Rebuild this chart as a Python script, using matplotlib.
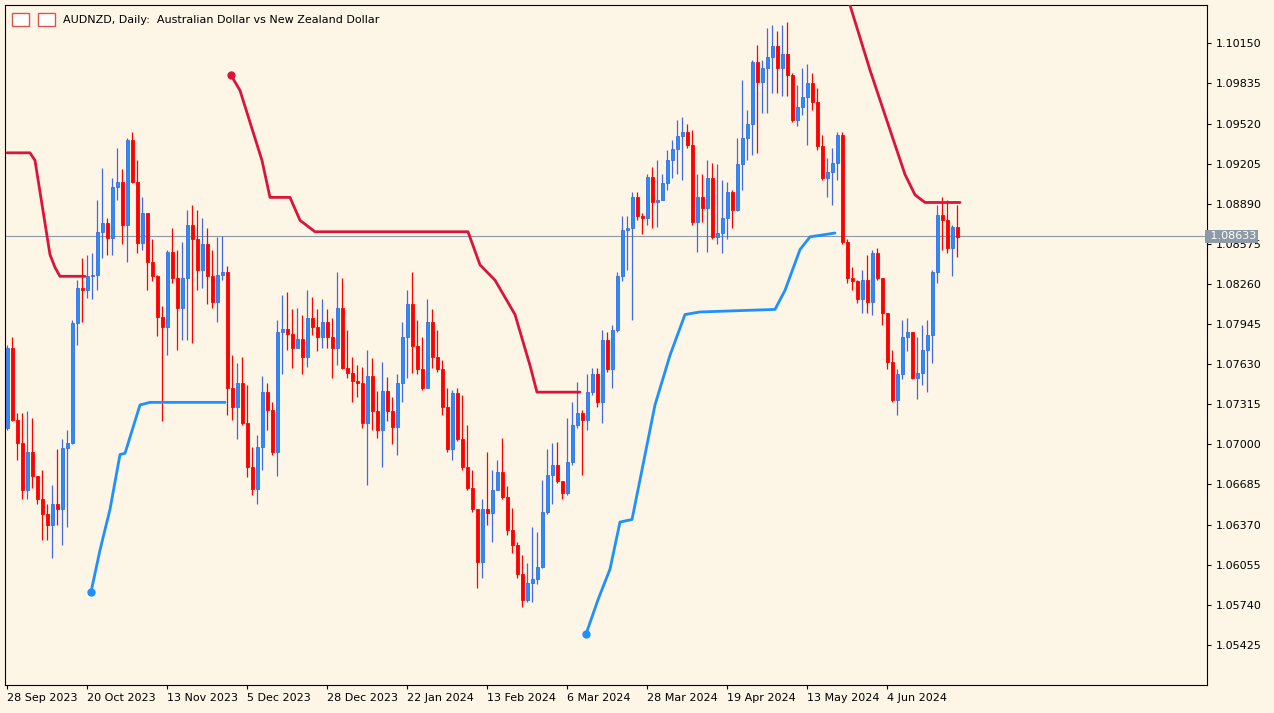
import matplotlib.pyplot as plt
import matplotlib.patches as mpatches
import numpy as np

# daily AUDNZD candles (open of each day = previous close)
first_open = 1.0713
closes = [10776, 10719, 10701, 10664, 10694, 10675, 10657, 10645, 10637, 10653,
          10649, 10697, 10701, 10795, 10823, 10821, 10832, 10833, 10867, 10874,
          10862, 10902, 10906, 10872, 10939, 10906, 10858, 10882, 10843, 10832,
          10800, 10792, 10851, 10831, 10807, 10831, 10872, 10861, 10837, 10857,
          10832, 10812, 10833, 10835, 10744, 10729, 10748, 10717, 10682, 10665,
          10698, 10741, 10727, 10694, 10788, 10791, 10787, 10776, 10783, 10769,
          10799, 10792, 10784, 10796, 10784, 10776, 10807, 10760, 10756, 10750,
          10748, 10717, 10754, 10726, 10711, 10742, 10726, 10714, 10748, 10784,
          10810, 10777, 10759, 10744, 10796, 10769, 10759, 10729, 10696, 10740,
          10704, 10682, 10666, 10649, 10608, 10649, 10646, 10664, 10678, 10659,
          10633, 10621, 10598, 10578, 10591, 10594, 10604, 10647, 10676, 10684,
          10671, 10662, 10686, 10715, 10725, 10719, 10741, 10755, 10733, 10782,
          10759, 10790, 10832, 10868, 10870, 10894, 10879, 10878, 10910, 10890,
          10892, 10905, 10923, 10932, 10942, 10945, 10935, 10875, 10894, 10886,
          10909, 10863, 10866, 10878, 10898, 10884, 10920, 10941, 10952, 11000,
          10985, 10996, 11004, 11013, 10996, 11007, 10990, 10955, 10965, 10973,
          10984, 10969, 10934, 10909, 10914, 10921, 10943, 10859, 10831, 10828,
          10814, 10829, 10812, 10850, 10831, 10803, 10765, 10735, 10755, 10784,
          10788, 10752, 10756, 10774, 10786, 10835, 10880, 10876, 10854, 10871,
          10863]
highs = [10778, 10784, 10725, 10725, 10726, 10721, 10672, 10680, 10653, 10668,
         10696, 10704, 10711, 10798, 10829, 10846, 10849, 10850, 10892, 10917,
         10878, 10909, 10933, 10916, 10941, 10945, 10923, 10894, 10866, 10861,
         10833, 10809, 10853, 10870, 10853, 10859, 10884, 10888, 10884, 10878,
         10870, 10853, 10863, 10864, 10840, 10770, 10764, 10769, 10747, 10698,
         10707, 10754, 10748, 10733, 10798, 10817, 10820, 10806, 10807, 10802,
         10821, 10816, 10806, 10814, 10806, 10799, 10835, 10831, 10790, 10769,
         10762, 10761, 10774, 10768, 10742, 10765, 10753, 10737, 10755, 10796,
         10821, 10835, 10798, 10784, 10814, 10806, 10790, 10766, 10744, 10743,
         10744, 10739, 10715, 10680, 10645, 10657, 10694, 10680, 10688, 10705,
         10667, 10650, 10623, 10613, 10607, 10635, 10631, 10672, 10696, 10701,
         10702, 10668, 10721, 10733, 10749, 10727, 10755, 10760, 10760, 10790,
         10788, 10794, 10835, 10879, 10879, 10898, 10898, 10882, 10912, 10918,
         10923, 10912, 10931, 10939, 10955, 10957, 10952, 10947, 10912, 10912,
         10923, 10921, 10920, 10908, 10906, 10900, 10941, 10986, 10963, 11002,
         11014, 11002, 11027, 11029, 11025, 11029, 11032, 10992, 10982, 10996,
         10999, 10992, 10980, 10943, 10925, 10933, 10945, 10945, 10861, 10839,
         10829, 10837, 10849, 10853, 10854, 10825, 10803, 10774, 10759, 10798,
         10799, 10788, 10784, 10794, 10798, 10837, 10888, 10894, 10892, 10872,
         10888]
lows = [10711, 10718, 10688, 10657, 10657, 10666, 10653, 10625, 10625, 10611,
        10637, 10621, 10635, 10700, 10778, 10796, 10815, 10814, 10821, 10846,
        10849, 10849, 10892, 10857, 10843, 10905, 10850, 10853, 10821, 10828,
        10785, 10718, 10770, 10827, 10774, 10782, 10782, 10780, 10821, 10823,
        10810, 10807, 10796, 10829, 10723, 10719, 10704, 10715, 10674, 10660,
        10653, 10680, 10711, 10692, 10675, 10755, 10774, 10760, 10776, 10755,
        10761, 10786, 10773, 10776, 10776, 10752, 10762, 10759, 10752, 10733,
        10737, 10713, 10668, 10711, 10705, 10682, 10718, 10700, 10692, 10733,
        10752, 10756, 10755, 10743, 10766, 10760, 10757, 10723, 10694, 10688,
        10703, 10680, 10664, 10647, 10587, 10595, 10637, 10623, 10664, 10657,
        10629, 10615, 10595, 10572, 10576, 10576, 10590, 10603, 10645, 10653,
        10670, 10657, 10660, 10684, 10713, 10676, 10711, 10739, 10729, 10717,
        10757, 10744, 10788, 10828, 10837, 10798, 10876, 10865, 10872, 10870,
        10871, 10892, 10900, 10909, 10912, 10908, 10933, 10872, 10851, 10875,
        10851, 10861, 10857, 10850, 10861, 10870, 10883, 10900, 10923, 10927,
        10929, 10960, 10960, 10976, 10976, 10974, 10974, 10953, 10950, 10959,
        10935, 10963, 10931, 10908, 10894, 10888, 10908, 10857, 10827, 10821,
        10811, 10803, 10803, 10802, 10829, 10794, 10759, 10733, 10723, 10751,
        10773, 10751, 10736, 10747, 10741, 10764, 10827, 10853, 10850, 10832,
        10847]

# trailing-stop style indicator lines: (candle index, price in pips)
red_lines = [
    ([0, 4.6, 5.6, 8.6, 9.6, 10.6, 15.6],
     [10929, 10929, 10923, 10849, 10839, 10832, 10832]),
    ([44.8, 46.6, 51, 52.6, 56.6, 58.6, 61.6, 92.2, 94.6, 97.6, 101.6, 104.6, 106, 114.6],
     [10990, 10978, 10923, 10894, 10894, 10876, 10867, 10867, 10841, 10829, 10802, 10762, 10741, 10741]),
    ([168.6, 172.6, 176.6, 179.6, 181.6, 183.6, 190.6],
     [11045, 10994, 10947, 10912, 10896, 10890, 10890]),
]
blue_lines = [
    ([16.8, 18.6, 20.6, 22.6, 23.6, 26.6, 28.6, 43.6],
     [10584, 10617, 10649, 10692, 10693, 10731, 10733, 10733]),
    ([115.8, 118.2, 120.6, 122.6, 125, 127, 129.6, 132.6, 135.6, 138.6, 153.6, 155.6, 158.6, 160.6, 165.6],
     [10551, 10578, 10602, 10639, 10641, 10680, 10731, 10770, 10802, 10804, 10806, 10821, 10853, 10863, 10866]),
]

yticks = [1.10150, 1.09835, 1.09520, 1.09205, 1.08890, 1.08575, 1.08260, 1.07945,
          1.07630, 1.07315, 1.07000, 1.06685, 1.06370, 1.06055, 1.05740, 1.05425]
date_labels = ['28 Sep 2023', '20 Oct 2023', '13 Nov 2023', '5 Dec 2023', '28 Dec 2023',
               '22 Jan 2024', '13 Feb 2024', '6 Mar 2024', '28 Mar 2024', '19 Apr 2024',
               '13 May 2024', '4 Jun 2024']
last_price = 1.08633

c = np.array(closes) / 1e4
h = np.array(highs) / 1e4
l = np.array(lows) / 1e4
o = np.concatenate([[first_open], c[:-1]])
idx = np.arange(len(c))

bg = '#fdf5e6'
bull_body, bull_edge = '#1e90ff', '#4169e1'
bear = '#ff0000'

fig = plt.figure(figsize=(12.74, 7.13), dpi=100, facecolor=bg)
ax = fig.add_axes([5 / 1274, 28 / 713, 1202 / 1274, 680 / 713], facecolor=bg)

up = c >= o
for i in idx:
    col_w = bull_edge if up[i] else bear
    ax.vlines(i, l[i], h[i], color=col_w, lw=0.9, zorder=2)
    lo_b, hi_b = min(o[i], c[i]), max(o[i], c[i])
    if hi_b - lo_b < 0.00003:
        hi_b = lo_b + 0.00003
    ax.bar(i, hi_b - lo_b, bottom=lo_b, width=0.6,
           color=bull_body if up[i] else bear,
           edgecolor=bull_edge if up[i] else bear, lw=0.6, zorder=3)

for xs, ps in red_lines:
    ax.plot(xs, np.array(ps) / 1e4, color='#dc143c', lw=2.0, zorder=4, solid_capstyle='round')
for xs, ps in blue_lines:
    ax.plot(xs, np.array(ps) / 1e4, color='#1e90ff', lw=2.0, zorder=4, solid_capstyle='round')
ax.plot(red_lines[1][0][0], red_lines[1][1][0] / 1e4, 'o', color='#dc143c', ms=5, zorder=5)
ax.plot(blue_lines[0][0][0], blue_lines[0][1][0] / 1e4, 'o', color='#1e90ff', ms=5, zorder=5)
ax.plot(blue_lines[1][0][0], blue_lines[1][1][0] / 1e4, 'o', color='#1e90ff', ms=5, zorder=5)

ax.axhline(last_price, color='#8c9aa8', lw=0.8, zorder=1)

ax.set_xlim(-0.4, 240)
ax.set_ylim(1.05110, 1.10451)
ax.yaxis.tick_right()
ax.set_yticks(yticks)
ax.set_yticklabels([f'{v:.5f}' for v in yticks])
ax.set_xticks(np.arange(len(date_labels)) * 16)
ax.set_xticklabels(date_labels, ha='left')
ax.tick_params(axis='both', labelsize=8, color='black', length=3, direction='out', pad=3)
for s in ax.spines.values():
    s.set_color('black')
    s.set_linewidth(0.8)

ax.text(1.0, last_price, f' {last_price:.5f}', transform=ax.get_yaxis_transform(),
        fontsize=8, color='white', va='center', ha='left', zorder=6,
        bbox=dict(boxstyle='square,pad=0.15', fc='#8c9aa8', ec='none'))

# small toolbar icons next to the title
for x0, col in [(12, '#d9534f'), (38, '#d9534f')]:
    fig.patches.append(mpatches.Rectangle((x0 / 1274, 1 - 26 / 713), 17 / 1274, 13 / 713,
                                          transform=fig.transFigure, fc='white', ec=col, lw=1))
ax.text(0.048, 0.985, 'AUDNZD, Daily:  Australian Dollar vs New Zealand Dollar',
        transform=ax.transAxes, fontsize=8, va='top', ha='left')

fig.savefig('out.png', dpi=100, facecolor=bg)
